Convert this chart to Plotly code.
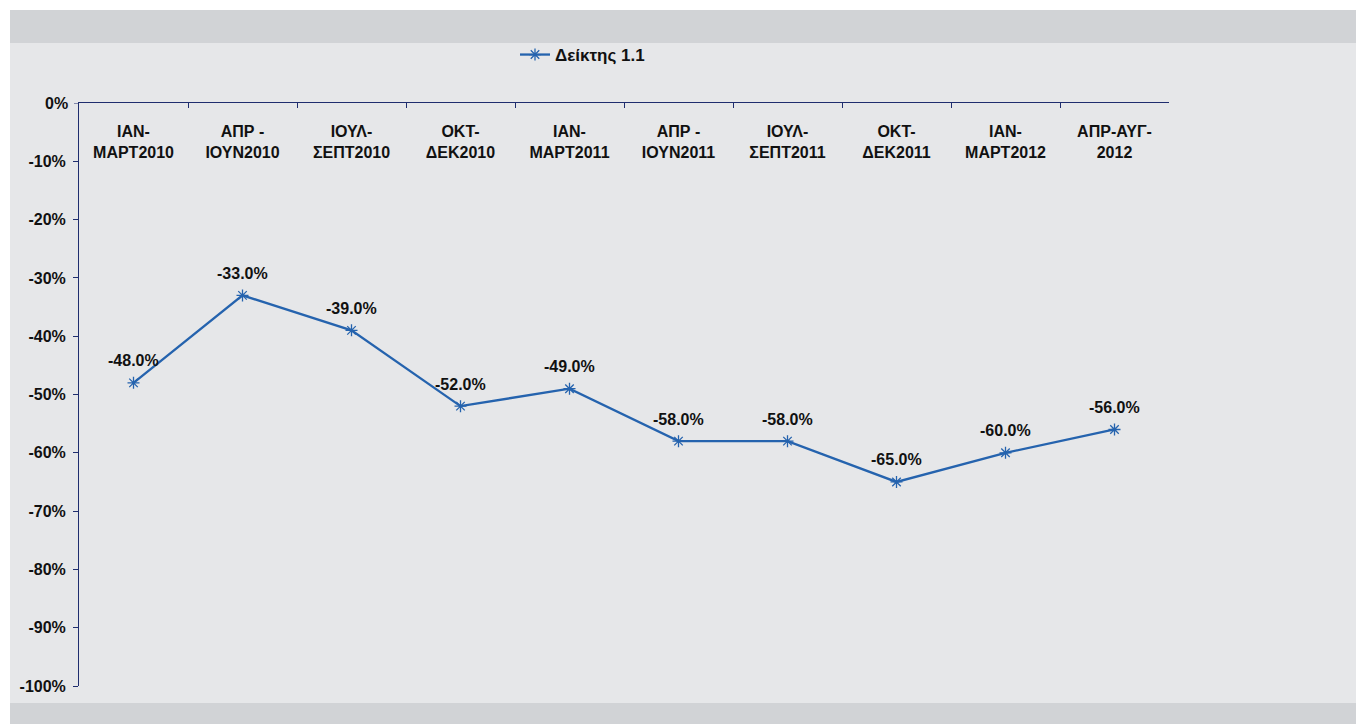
import plotly.graph_objects as go

categories = ["ΙΑΝ-ΜΑΡΤ2010", "ΑΠΡ-ΙΟΥΝ2010", "ΙΟΥΛ-ΣΕΠΤ2010", "ΟΚΤ-ΔΕΚ2010",
              "ΙΑΝ-ΜΑΡΤ2011", "ΑΠΡ-ΙΟΥΝ2011", "ΙΟΥΛ-ΣΕΠΤ2011", "ΟΚΤ-ΔΕΚ2011",
              "ΙΑΝ-ΜΑΡΤ2012", "ΑΠΡ-ΑΥΓ-2012"]
tick_labels = ["ΙΑΝ-<br>ΜΑΡΤ2010", "ΑΠΡ -<br>ΙΟΥΝ2010", "ΙΟΥΛ-<br>ΣΕΠΤ2010", "ΟΚΤ-<br>ΔΕΚ2010",
               "ΙΑΝ-<br>ΜΑΡΤ2011", "ΑΠΡ -<br>ΙΟΥΝ2011", "ΙΟΥΛ-<br>ΣΕΠΤ2011", "ΟΚΤ-<br>ΔΕΚ2011",
               "ΙΑΝ-<br>ΜΑΡΤ2012", "ΑΠΡ-ΑΥΓ-<br>2012"]
values = [-48.0, -33.0, -39.0, -52.0, -49.0, -58.0, -58.0, -65.0, -60.0, -56.0]
y_ticks = [0, -10, -20, -30, -40, -50, -60, -70, -80, -90, -100]
y_tick_labels = ["0%", "-10%", "-20%", "-30%", "-40%", "-50%", "-60%", "-70%", "-80%", "-90%", "-100%"]
series_name = "Δείκτης 1.1"

OFF = 8  # page body margin
W, H = 1364 - OFF, 724 - OFF
L, R, T, B = 79 - OFF, 1169 - OFF, 103 - OFF, 686 - OFF
pw, ph = R - L, B - T

def px_x(p):
    return (p - OFF - L) / pw

def px_y(p):
    return 1 - (p - OFF - T) / ph

font = "Liberation Sans, Arial, sans-serif"
line_col = "#2563ae"
axis_col = "#1f2d6e"

fig = go.Figure()
fig.add_trace(go.Scatter(
    x=categories, y=values, name=series_name, mode="lines+markers",
    line=dict(color=line_col, width=2.3),
    marker=dict(symbol="asterisk-open", size=10, color=line_col, line=dict(color=line_col, width=1.3)),
    cliponaxis=False,
))

for c, v in zip(categories, values):
    fig.add_annotation(x=c, y=v, text=f"{v:.1f}%", showarrow=False, yshift=22,
                       font=dict(family=font, size=16, color="#111111", weight="bold"))

# label for the top tick, which plotly hides at the axis edge
fig.add_annotation(xref="paper", x=0, yref="y", y=y_ticks[0], text=y_tick_labels[0],
                   showarrow=False, xanchor="right", yanchor="middle", xshift=-9,
                   font=dict(family=font, size=16, color="#111111", weight="bold"))

shapes = [
    dict(type="rect", xref="paper", yref="paper", layer="below",
         x0=px_x(10), x1=px_x(1370), y0=px_y(730), y1=px_y(10),
         fillcolor="#d1d3d6", line=dict(width=0)),
    dict(type="rect", xref="paper", yref="paper", layer="below",
         x0=px_x(10), x1=px_x(1370), y0=px_y(703), y1=px_y(43),
         fillcolor="#e6e7e9", line=dict(width=0)),
    dict(type="line", xref="paper", yref="y", x0=px_x(74), x1=0, y0=0, y1=0,
         line=dict(color=axis_col, width=1)),
]

fig.update_layout(
    width=W, height=H,
    margin=dict(l=L, r=W - R, t=T, b=H - B, pad=0),
    paper_bgcolor="white", plot_bgcolor="rgba(0,0,0,0)",
    font=dict(family=font, size=16, color="#111111"),
    shapes=shapes,
    showlegend=True,
    legend=dict(x=px_x(515), y=px_y(55), xanchor="left", yanchor="middle",
                bgcolor="rgba(0,0,0,0)", font=dict(family=font, size=17, weight="bold"),
                itemwidth=30),
    xaxis=dict(
        type="category", side="top", showline=True, linecolor=axis_col, linewidth=1,
        ticks="inside", ticklen=5, tickcolor=axis_col, tickson="boundaries",
        ticklabelposition="inside", tickvals=categories, ticktext=tick_labels,
        tickfont=dict(family=font, size=16, weight="bold", color="#111111"),
        showgrid=False, zeroline=False, range=[-0.5, len(categories) - 0.5],
        ticklabelstandoff=18,
    ),
    yaxis=dict(
        range=[-100, 0], tickvals=y_ticks, ticktext=y_tick_labels,
        showline=True, linecolor=axis_col, linewidth=1,
        ticks="outside", ticklen=5, tickcolor=axis_col, ticklabelstandoff=4,
        tickfont=dict(family=font, size=16, weight="bold", color="#111111"),
        showgrid=False, zeroline=False,
    ),
)

fig.write_html("out.html")
